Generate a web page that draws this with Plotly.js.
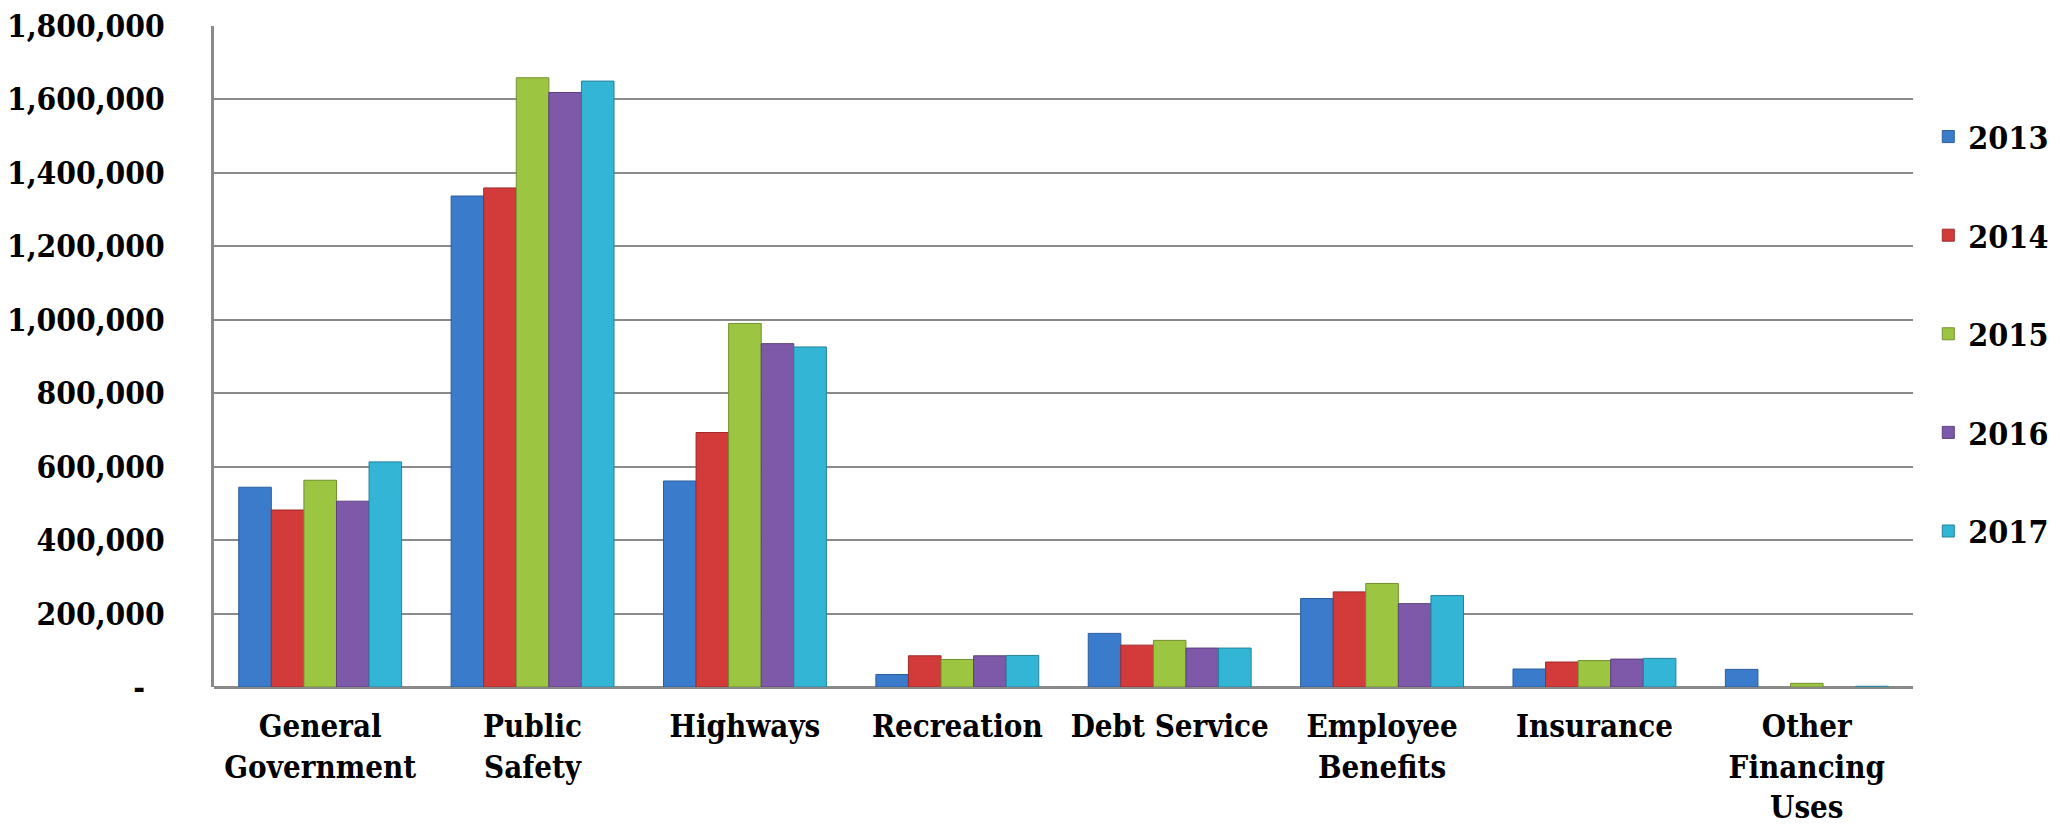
<!DOCTYPE html>
<html>
<head>
<meta charset="utf-8">
<script src="https://cdn.plot.ly/plotly-3.0.1.min.js"></script>
<style>
  html, body { margin: 0; padding: 0; background: #ffffff; }
  #chart { width: 2060px; height: 827px; }
</style>
</head>
<body>
<div id="chart"></div>
<script>
// ---- Data ----
const categories = [
  "General<br>Government",
  "Public<br>Safety",
  "Highways",
  "Recreation",
  "Debt Service",
  "Employee<br>Benefits",
  "Insurance",
  "Other<br>Financing<br>Uses"
];
const years = ["2013", "2014", "2015", "2016", "2017"];

const values2013 = [544000, 1337000, 561000, 34000, 146000, 241000, 49000, 48000];
const values2014 = [482000, 1359000, 693000, 85000, 114000, 259000, 68000, 0];
const values2015 = [563000, 1659000, 990000, 75000, 127000, 282000, 72000, 10000];
const values2016 = [506000, 1619000, 935000, 85000, 106000, 227000, 76000, 0];
const values2017 = [613000, 1650000, 926000, 86000, 106000, 249000, 78000, 2000];

const yTickVals = [0, 200000, 400000, 600000, 800000, 1000000, 1200000, 1400000, 1600000, 1800000];
const yTickText = ["-\u00a0\u00a0", "200,000", "400,000", "600,000", "800,000", "1,000,000", "1,200,000", "1,400,000", "1,600,000", "1,800,000"];

// ---- Styles ----
const seriesValues = [values2013, values2014, values2015, values2016, values2017];
const fillColors = ["#3b7bcb", "#d33b3b", "#9cc642", "#7e59a9", "#33b5d6"];
const edgeColors = ["#2b5e9c", "#9e2a2a", "#738f32", "#5c3f7e", "#23839c"];

const FONT = '"DejaVu Serif Condensed", "DejaVu Serif", serif';
const fontOf = (size) => ({ family: FONT, size: size, color: "#000000", weight: 700, stretch: "condensed" });

const traces = years.map((yr, i) => ({
  type: "bar",
  name: yr,
  x: categories,
  y: seriesValues[i],
  legendgroup: "g" + i,
  marker: {
    color: fillColors[i],
    line: { color: edgeColors[i], width: seriesValues[i].map(v => (v > 0 ? 1 : 0)) }
  },
  hoverinfo: "skip"
}));

const layout = {
  width: 2060,
  height: 827,
  paper_bgcolor: "#ffffff",
  plot_bgcolor: "#ffffff",
  margin: { l: 214, r: 147, t: 26, b: 140, autoexpand: false },
  barmode: "group",
  bargap: 0.233,
  bargroupgap: 0,
  showlegend: true,
  legend: {
    x: 1.009, xanchor: "left",
    y: 0.874, yanchor: "top",
    traceorder: "grouped",
    tracegroupgap: 54,
    font: fontOf(32),
    bgcolor: "rgba(0,0,0,0)"
  },
  xaxis: {
    type: "category",
    showgrid: false,
    showline: false,
    zeroline: false,
    ticks: "outside",
    ticklen: 12,
    tickcolor: "rgba(0,0,0,0)",
    tickfont: fontOf(31),
    tickangle: 0,
    fixedrange: true
  },
  yaxis: {
    range: [0, 1800000],
    tickvals: yTickVals,
    ticktext: yTickText,
    showgrid: true,
    gridcolor: "#8a8a8a",
    gridwidth: 2,
    showline: true,
    linecolor: "#8a8a8a",
    linewidth: 3,
    zeroline: true,
    zerolinecolor: "#8a8a8a",
    zerolinewidth: 3,
    ticks: "outside",
    ticklen: 40,
    tickcolor: "rgba(0,0,0,0)",
    tickfont: fontOf(31.5),
    fixedrange: true
  },
  hovermode: false
};

Plotly.newPlot("chart", traces, layout, { displayModeBar: false, staticPlot: true });
</script>
</body>
</html>
